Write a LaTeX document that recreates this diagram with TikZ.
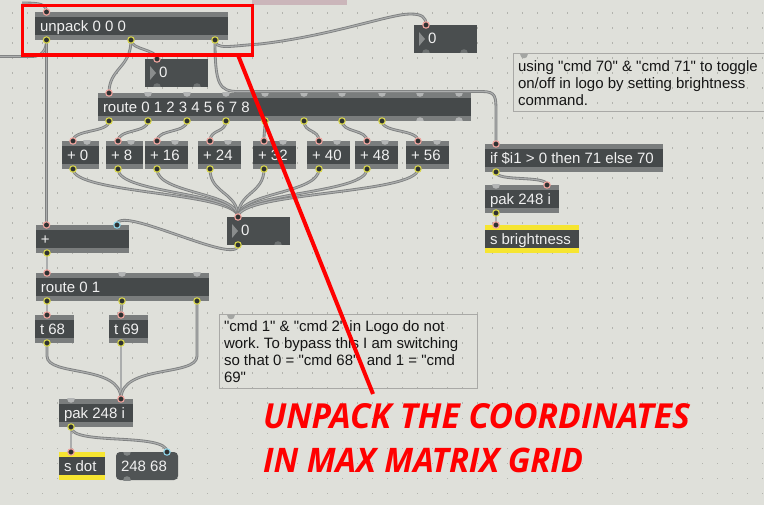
\documentclass[tikz,border=0pt]{standalone}
\usepackage{fontspec}
\setmainfont{Liberation Sans}[Ligatures=TeXOff]
\newfontfamily\redfont{Open Sans}
\definecolor{bgc}{HTML}{DFE0DA}
\definecolor{dotc}{HTML}{B2B3AD}
\definecolor{mstrip}{HTML}{7A7D7D}
\definecolor{mbody}{HTML}{45494A}
\definecolor{mnum}{HTML}{4A4E4F}
\definecolor{mmsg}{HTML}{505455}
\definecolor{bumpLc}{HTML}{B3B5B5}
\definecolor{bumpDc}{HTML}{6E7272}
\definecolor{bumpMc}{HTML}{808484}
\definecolor{bumpCc}{HTML}{A3A5A2}
\definecolor{ringPc}{HTML}{F0A49E}
\definecolor{ringYc}{HTML}{D8D64C}
\definecolor{ringBc}{HTML}{8ED4E8}
\definecolor{ringFc}{HTML}{2E3131}
\definecolor{cordO}{HTML}{7E8080}
\definecolor{cordI}{HTML}{ABADAD}
\definecolor{sendY}{HTML}{F6E531}
\definecolor{cmtB}{HTML}{A9A9A6}
\definecolor{cmtT}{HTML}{151515}
\definecolor{lblc}{HTML}{F0F0F0}
\definecolor{tric}{HTML}{8A8D8D}
\definecolor{mauve}{HTML}{CBB6BA}
\definecolor{redc}{HTML}{FF0000}
\tikzset{
  objbox/.style={rectangle, inner sep=0pt, outer sep=0pt, minimum height=28pt, fill=mstrip,
    path picture={\fill[mbody] ([yshift=-5pt]path picture bounding box.north west) rectangle ([yshift=5pt]path picture bounding box.south east);}},
  sendbox/.style={objbox, fill=sendY},
  numbox/.style={rectangle, inner sep=0pt, outer sep=0pt, minimum height=28pt, fill=mnum},
  msgbox/.style={rectangle, rounded corners=4pt, inner sep=0pt, outer sep=0pt, minimum height=28pt, fill=mmsg},
  lbl/.style={inner sep=0pt, outer sep=0pt, text=lblc, font=\fontsize{15}{17}\selectfont},
  cmt/.style={inner sep=0pt, outer sep=0pt, align=left, text=cmtT, font=\fontsize{15}{17}\selectfont\frenchspacing},
  cord/.style={draw=cordO, double=cordI, double distance=1.1pt, line width=0.85pt},
  pinP/.style={draw=ringPc, fill=ringFc, line width=1.1pt},
  pinB/.style={draw=ringBc, fill=ringFc, line width=1.1pt},
  poutY/.style={draw=ringYc, fill=ringFc, line width=1.1pt},
}
\newcommand\mobj[6][objbox]{%
  \node[#1, minimum width=#5pt, anchor=north west] (#2) at (#3,#4) {};
  \node[lbl, anchor=base west] (#2-t) at ({#3+5},{#4+19.5}) {#6};}
\newcommand\nbox[4]{%
  \node[numbox, minimum width=#4pt, anchor=north west] (#1) at (#2,#3) {};
  \fill[tric] ({#2+5},{#3+7}) -- ({#2+5},{#3+21}) -- ({#2+11},{#3+14}) -- cycle;
  \node[lbl, anchor=base west] (#1-t) at ({#2+14},{#3+18.5}) {0};}
\newcommand\tbump[3][bumpLc]{\begin{scope}\clip ({#2-5},#3) rectangle ({#2+5},{#3+5});\fill[#1] (#2,#3) circle[radius=3.8];\end{scope}}
\newcommand\bbump[3][bumpLc]{\begin{scope}\clip ({#2-5},{#3-5}) rectangle ({#2+5},#3);\fill[#1] (#2,#3) circle[radius=3.8];\end{scope}}
\begin{document}
\frenchspacing
\begin{tikzpicture}[x=1pt,y=-1pt]
\useasboundingbox (0,0) rectangle (764,505);
\fill[bgc] (0,0) rectangle (764,505);
\foreach \i in {0,...,50}{\foreach \j in {0,...,32}{\fill[dotc] ({11.5+15*\i},{12.5+15*\j}) rectangle ++(1.1,1.1);}}
\fill[mauve] (252,0) rectangle (347,5);

% ---- objects ----
\mobj{unpack}{35}{12}{193}{unpack 0 0 0}
\nbox{num1}{145}{59}{63}
\nbox{numR}{414}{25}{63}
\mobj{route}{98}{93}{373}{route 0 1 2 3 4 5 6 7 8}
\mobj{p0}{62}{141}{37}{+ 0}
\mobj{p8}{106}{141}{37}{+ 8}
\mobj{p16}{145}{141}{43}{+ 16}
\mobj{p24}{198}{141}{43}{+ 24}
\mobj{p32}{253}{141}{43}{+ 32}
\mobj{p40}{307}{141}{43}{+ 40}
\mobj{p48}{355}{141}{43}{+ 48}
\mobj{p56}{406}{141}{43}{+ 56}
\nbox{numM}{227}{217}{63}
\mobj{plus}{36}{225}{93}{+}
\mobj{rzo}{36}{273}{173}{route 0 1}
\mobj{tA}{35}{315}{39}{t 68}
\mobj{tB}{109}{315}{39}{t 69}
\mobj{pakL}{59}{399}{74}{pak 248 i}
\mobj[sendbox]{sdot}{59}{452}{46}{s dot}
\mobj[msgbox]{msg}{116}{452}{62}{248 68}
\mobj{ifo}{485}{144}{178}{if \$i1 > 0 then 71 else 70}
\mobj{pakR}{485}{185}{74}{pak 248 i}
\mobj[sendbox]{sbr}{485}{225}{94}{s brightness}

% ---- unconnected ports ----
\foreach \x in {148,187,226,265,304,342,382,420,459}{\tbump{\x}{93}}
\foreach \x in {420,459}{\bbump{\x}{121}}
\foreach \x in {87,131,175,228,283,337,385,437}{\tbump{\x}{141}}
\foreach \x in {157,197}{\bbump[bumpDc]{\x}{87}}
\foreach \x in {426,464}{\bbump[bumpDc]{\x}{53}}
\bbump[bumpDc]{278}{245}
\foreach \x in {122,197}{\tbump{\x}{273}}
\tbump{71}{399}
\tbump{496}{185}
\tbump[bumpMc]{127}{452}
\bbump[bumpMc]{127}{480}

% ---- port coordinates ----
\coordinate (topin) at (22,3);
\coordinate (leftout) at (0,56.5);
\coordinate (unpack-i1) at (46.5,12);
\coordinate (unpack-o1) at (46.5,40);
\coordinate (unpack-o2) at (131,40);
\coordinate (unpack-o3) at (215,40);
\coordinate (num1-i) at (157,59);
\coordinate (numR-i) at (426,25);
\coordinate (route-i1) at (109,93);
\foreach \x [count=\k] in {109,148,187,226,265,304,342,382}{\coordinate (route-o\k) at (\x,121);}
\foreach \n/\x in {p0/73,p8/118,p16/157,p24/210,p32/264,p40/319,p48/367,p56/418}{
  \coordinate (\n-i) at (\x,141); \coordinate (\n-o) at (\x,169);}
\coordinate (numM-i) at (238,217);
\coordinate (numM-o) at (238,245);
\coordinate (plus-i1) at (46.5,225);
\coordinate (plus-i2) at (117,225);
\coordinate (plus-o) at (47,253);
\coordinate (rzo-i) at (47,273);
\coordinate (rzo-o1) at (47,301);
\coordinate (rzo-o2) at (122,301);
\coordinate (rzo-o3) at (197,301);
\coordinate (tA-i) at (47,315);
\coordinate (tA-o) at (47,343);
\coordinate (tB-i) at (121,315);
\coordinate (tB-o) at (121,343);
\coordinate (pakL-i2) at (121,399);
\coordinate (pakL-o) at (71,427);
\coordinate (sdot-i) at (71,452);
\coordinate (msg-i2) at (167,452);
\coordinate (ifo-i) at (496,144);
\coordinate (ifo-o) at (496,172);
\coordinate (pakR-i2) at (547,185);
\coordinate (pakR-o) at (496,213);
\coordinate (sbr-i) at (496,225);

% ---- cords ----
\draw[cord] (topin) .. controls (40,3) and (46.5,4) .. (unpack-i1);
\draw[cord] (unpack-o1) .. controls (46.5,50) and (42,56.5) .. (32,56.5) -- (leftout);
\draw[cord] (unpack-o1) -- (plus-i1);
\draw[cord] (unpack-o2) .. controls (131,50) and (157,49) .. (num1-i);
\draw[cord] (unpack-o2) .. controls (131,68) and (109,68) .. (route-i1);
\draw[cord] (unpack-o3) .. controls (215,50) and (230,46) .. (260,44) .. controls (330,36) and (390,14) .. (410,14) .. controls (422,14) and (426,17) .. (numR-i);
\draw[cord] (unpack-o3) .. controls (215,84) and (219,91.5) .. (238,91.5) -- (482,91.5) .. controls (496,91.5) and (496,97) .. (496,112) -- (ifo-i);
\foreach \k/\n in {1/p0,2/p8,3/p16,4/p24,5/p32,6/p40,7/p48,8/p56}{
  \draw[cord] (route-o\k) .. controls +(0,12) and +(0,-12) .. (\n-i);
  \draw[cord] (\n-o) .. controls +(0,25) and +(0,-25) .. (numM-i);}
\draw[cord] (numM-o) .. controls +(0,22) and +(0,-22) .. (plus-i2);
\draw[cord] (plus-o) -- (rzo-i);
\draw[cord] (rzo-o1) -- (tA-i);
\draw[cord] (rzo-o2) .. controls +(0,6) and +(0,-6) .. (tB-i);
\draw[cord] (tA-o) -- (47,356) .. controls (47,377) and (121,364) .. (pakL-i2);
\draw[cord] (tB-o) -- (pakL-i2);
\draw[cord] (rzo-o3) -- (197,356) .. controls (197,377) and (121,364) .. (pakL-i2);
\draw[cord] (pakL-o) -- (sdot-i);
\draw[cord] (pakL-o) .. controls (71,446) and (167,432) .. (msg-i2);
\draw[cord] (ifo-o) .. controls +(0,10) and +(0,-10) .. (pakR-i2);
\draw[cord] (pakR-o) -- (sbr-i);

% ---- connected ports ----
\foreach \c in {unpack-i1,num1-i,numR-i,route-i1,p0-i,p8-i,p16-i,p24-i,p32-i,p40-i,p48-i,p56-i,numM-i,plus-i1,rzo-i,tA-i,tB-i,pakL-i2,sdot-i,ifo-i,pakR-i2,sbr-i}{\draw[pinP] (\c) circle[radius=3.2];}
\foreach \c in {plus-i2,msg-i2}{\draw[pinB] (\c) circle[radius=3.2];}
\foreach \c in {unpack-o1,unpack-o2,unpack-o3,route-o1,route-o2,route-o3,route-o4,route-o5,route-o6,route-o7,route-o8,p0-o,p8-o,p16-o,p24-o,p32-o,p40-o,p48-o,p56-o,numM-o,plus-o,rzo-o1,rzo-o2,rzo-o3,tA-o,tB-o,pakL-o,ifo-o,pakR-o}{\draw[poutY] (\c) circle[radius=3.2];}

% ---- comments ----
\draw[cmtB, line width=1pt] (513,54) rectangle (768,112);
\tbump[bumpCc]{524}{54.5}
\node[cmt, anchor=north west] (cmt1) at (518,60.8) {using "cmd 70" \& "cmd 71" to toggle\\on/off in logo by setting brightness\\command.};
\draw[cmtB, line width=1pt] (219,315) rectangle (477,389);
\tbump[bumpCc]{231}{315.5}
\node[cmt, anchor=north west] (cmt2) at (224,320.8) {"cmd 1" \& "cmd 2" in Logo do not\\work. To bypass this I am switching\\so that 0 = "cmd 68"\ \ and 1 = "cmd\\69"};

% ---- red annotation ----
\draw[redc, line width=3.5pt] (22.5,5.5) rectangle (252.5,55);
\coordinate (redA) at (238,55);
\coordinate (redB) at (373,394);
\draw[redc, line width=4pt] (redA) -- (redB);
\node[inner sep=0pt, outer sep=0pt, anchor=base west, text=redc] (red1) at (263,429) {\resizebox{427pt}{25pt}{\redfont\bfseries\itshape UNPACK THE COORDINATES}};
\node[inner sep=0pt, outer sep=0pt, anchor=base west, text=redc] (red2) at (263,472) {\resizebox{320pt}{24.5pt}{\redfont\bfseries\itshape IN MAX MATRIX GRID}};
\end{tikzpicture}
\end{document}
